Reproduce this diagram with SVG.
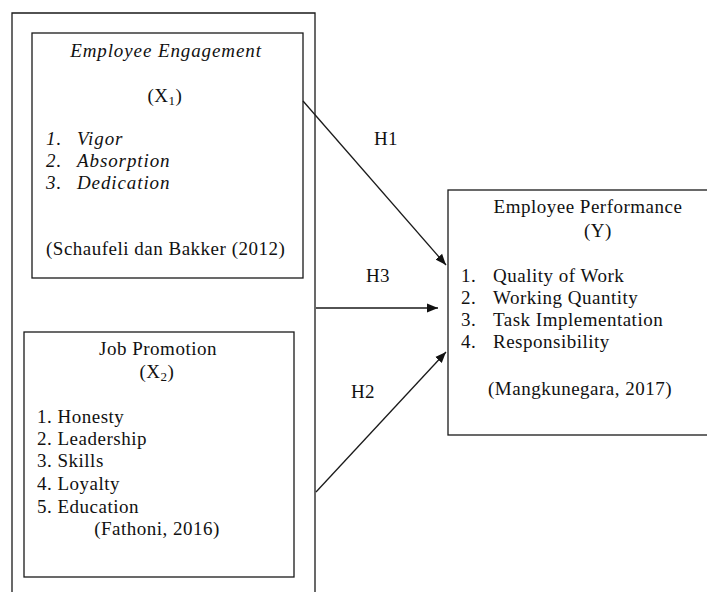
<svg xmlns="http://www.w3.org/2000/svg" width="707" height="592" viewBox="0 0 707 592">
  <style>
    .box { fill: none; stroke: #1a1a1a; stroke-width: 1.3; }
    .t { font-family: "Liberation Serif", "Times New Roman", serif; font-size: 19px; letter-spacing: 0.5px; fill: #111; }
    .i { font-style: italic; letter-spacing: 0.9px; }
    .c { text-anchor: middle; }
    .sub { font-size: 13px; }
    .edge { stroke: #1a1a1a; stroke-width: 1.3; fill: none; marker-end: url(#arrow); }
  </style>
  <defs>
    <marker id="arrow" viewBox="0 0 10 10" refX="10" refY="5" markerWidth="11" markerHeight="11" markerUnits="userSpaceOnUse" orient="auto">
      <path d="M0,1 L10,5 L0,9 Z" fill="#111"/>
    </marker>
  </defs>

  <rect x="0" y="0" width="707" height="592" fill="#fff"/>

  <!-- outer frame around both predictors -->
  <g id="frame">
    <path class="box" d="M12,600 L12,13 L315,13 L315,600"/>
  </g>

  <g id="x1">
    <rect class="box" x="32" y="33" width="271" height="245"/>
    <text class="t i c" x="166" y="57">Employee Engagement</text>
    <text class="t c" x="165" y="102">(X<tspan class="sub" dy="3">1</tspan><tspan dy="-3">)</tspan></text>
    <text class="t i" x="46" y="145">1.</text><text class="t i" x="77" y="145">Vigor</text>
    <text class="t i" x="46" y="167">2.</text><text class="t i" x="77" y="167">Absorption</text>
    <text class="t i" x="46" y="189">3.</text><text class="t i" x="77" y="189">Dedication</text>
    <text class="t" x="46" y="255">(Schaufeli dan Bakker (2012)</text>
  </g>

  <g id="x2">
    <rect class="box" x="24" y="332" width="270" height="245"/>
    <text class="t c" x="158" y="355">Job Promotion</text>
    <text class="t c" x="157" y="378">(X<tspan class="sub" dy="3">2</tspan><tspan dy="-3">)</tspan></text>
    <text class="t" x="37" y="423">1. Honesty</text>
    <text class="t" x="37" y="445">2. Leadership</text>
    <text class="t" x="37" y="467">3. Skills</text>
    <text class="t" x="37" y="490">4. Loyalty</text>
    <text class="t" x="37" y="513">5. Education</text>
    <text class="t c" x="157" y="535">(Fathoni, 2016)</text>
  </g>

  <g id="y">
    <rect class="box" x="448" y="190" width="270" height="245"/>
    <text class="t c" x="588" y="213">Employee Performance</text>
    <text class="t c" x="598" y="237">(Y)</text>
    <text class="t" x="461" y="282">1.</text><text class="t" x="493" y="282">Quality of Work</text>
    <text class="t" x="461" y="304">2.</text><text class="t" x="493" y="304">Working Quantity</text>
    <text class="t" x="461" y="326">3.</text><text class="t" x="493" y="326">Task Implementation</text>
    <text class="t" x="461" y="348">4.</text><text class="t" x="493" y="348">Responsibility</text>
    <text class="t" x="488" y="395">(Mangkunegara, 2017)</text>
  </g>

  <g id="connectors">
    <line class="edge" x1="303" y1="101" x2="446" y2="265"/>
    <line class="edge" x1="316" y1="308" x2="438" y2="308"/>
    <line class="edge" x1="316" y1="492" x2="446" y2="352"/>
    <text class="t c" x="386" y="145">H1</text>
    <text class="t c" x="378" y="282">H3</text>
    <text class="t c" x="363" y="398">H2</text>
  </g>
</svg>
